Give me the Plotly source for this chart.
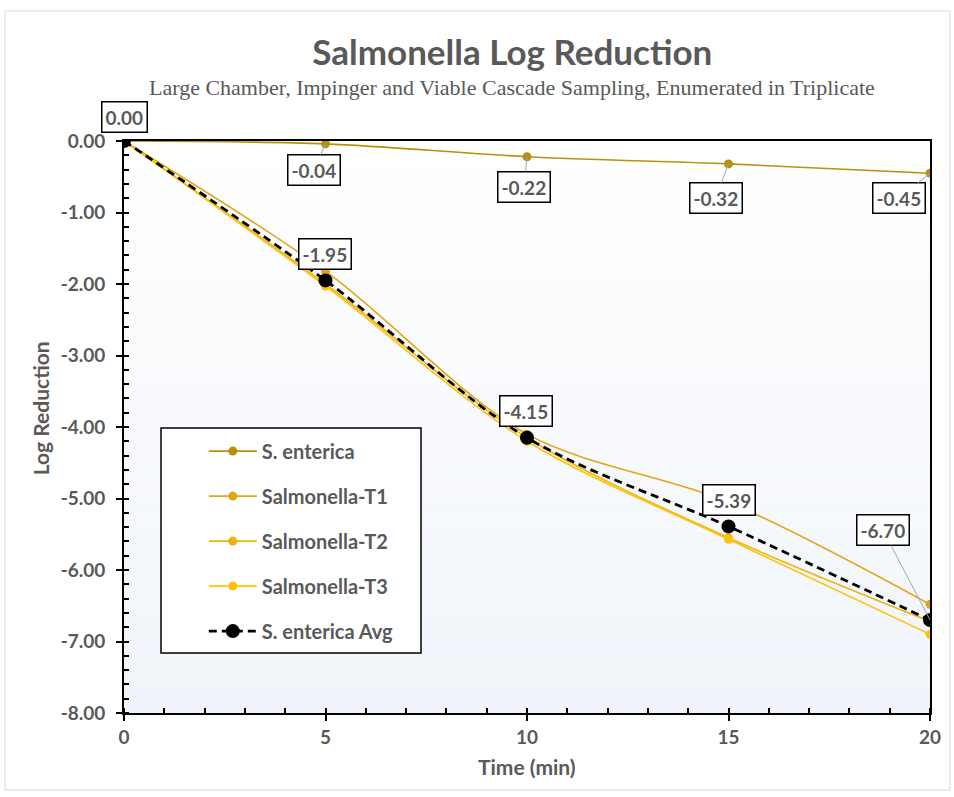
import plotly.graph_objects as go

# Sampling times (min)
time_min = [0, 5, 10, 15, 20]

# Log reduction per series
s_enterica = [0.00, -0.04, -0.22, -0.32, -0.45]
salmonella_t1 = [0.00, -1.82, -4.10, -5.05, -6.48]
salmonella_t2 = [0.00, -2.00, -4.15, -5.55, -6.72]
salmonella_t3 = [0.00, -2.03, -4.20, -5.57, -6.90]
s_enterica_avg = [0.00, -1.95, -4.15, -5.39, -6.70]

y_ticks = [0, -1, -2, -3, -4, -5, -6, -7, -8]
x_ticks = [0, 5, 10, 15, 20]

FONT = "Lato"
GRAY = "#595959"

fig = go.Figure()

series = [
    ("S. enterica", s_enterica, "#B8900F"),
    ("Salmonella-T1", salmonella_t1, "#E0A614"),
    ("Salmonella-T2", salmonella_t2, "#EEB40E"),
    ("Salmonella-T3", salmonella_t3, "#FFC20A"),
]
for i, (name, vals, col) in enumerate(series):
    fig.add_trace(go.Scatter(
        x=time_min, y=vals, name=name, mode="lines+markers",
        line=dict(color=col, width=1.6, shape="spline", smoothing=0.9),
        marker=dict(color=col, size=9),
        legendgroup=f"g{i}",
    ))

fig.add_trace(go.Scatter(
    x=time_min, y=s_enterica_avg, name="S. enterica Avg", mode="lines+markers",
    line=dict(color="black", width=2.8, dash="8px,5px", shape="spline", smoothing=0.9),
    marker=dict(color="black", size=14),
    legendgroup="g4",
))

# Value labels: (x, y, ax, ay, show leader line)
labels = [
    (time_min[0], s_enterica_avg[0], 0, -24, False),
    (time_min[1], s_enterica[1], -12, 26, True),
    (time_min[2], s_enterica[2], -3, 30, True),
    (time_min[3], s_enterica[3], -13, 34, True),
    (time_min[4], s_enterica[4], -31, 25, True),
    (time_min[1], s_enterica_avg[1], -1, -26, False),
    (time_min[2], s_enterica_avg[2], -1, -27, False),
    (time_min[3], s_enterica_avg[3], 0, -26, False),
    (time_min[4], s_enterica_avg[4], -47, -90, True),
]
annotations = []
for x, y, ax, ay, leader in labels:
    annotations.append(dict(
        x=x, y=y, xref="x", yref="y", text=f"{y:.2f}",
        showarrow=True, ax=ax, ay=ay, arrowhead=0, arrowwidth=1,
        arrowcolor="#a6a6a6" if leader else "rgba(0,0,0,0)",
        font=dict(family=FONT, size=19, color=GRAY, weight="bold"),
        bgcolor="white", bordercolor="black", borderwidth=1.5, borderpad=3,
    ))

# Subtitle and axis titles
annotations.append(dict(
    x=0.481, y=1.0927, xref="paper", yref="paper", showarrow=False,
    xanchor="center", yanchor="middle",
    text="Large Chamber, Impinger and Viable Cascade Sampling, Enumerated in Triplicate",
    font=dict(family="Liberation Serif", size=22, color=GRAY),
))
annotations.append(dict(
    x=-0.104, y=0.533, xref="paper", yref="paper", showarrow=False,
    xanchor="center", yanchor="middle",
    text="Log Reduction", textangle=-90,
    font=dict(family=FONT, size=21, color=GRAY, weight="bold"),
))
annotations.append(dict(
    x=0.5, y=-0.093, xref="paper", yref="paper", showarrow=False,
    xanchor="center", yanchor="middle",
    text="Time (min)",
    font=dict(family=FONT, size=21, color=GRAY, weight="bold"),
))

# Plot-area background: vertical gradient built from thin bands
shapes = []
n_bands = 60
top = (255, 255, 255)
bottom = (240, 244, 250)
for k in range(n_bands):
    t = (k + 0.5) / n_bands
    c = tuple(round(top[j] + (bottom[j] - top[j]) * t) for j in range(3))
    shapes.append(dict(
        type="rect", xref="paper", yref="paper", layer="below",
        x0=0, x1=1, y0=1 - (k + 1) / n_bands, y1=1 - k / n_bands,
        fillcolor=f"rgb{c}", line=dict(width=0),
    ))

# Legend frame
shapes.append(dict(
    type="rect", xref="paper", yref="paper", layer="below",
    x0=0.0459, x1=0.3685, y0=0.1049, y1=0.4983,
    fillcolor="white", line=dict(color="black", width=1.5),
))
# Outer chart frame
shapes.append(dict(
    type="rect", xref="paper", yref="paper", layer="below",
    x0=-0.1476, x1=1.0248, y0=-0.1346, y1=1.2273,
    fillcolor="rgba(0,0,0,0)", line=dict(color="#d9d9d9", width=1),
))

fig.update_layout(
    width=954, height=797,
    margin=dict(l=124, r=24, t=141, b=84),
    paper_bgcolor="white", plot_bgcolor="white",
    title=dict(
        text="Salmonella Log Reduction", x=0.537, y=0.934,
        xref="container", yref="container", xanchor="center", yanchor="middle",
        font=dict(family=FONT, size=35, color=GRAY, weight="bold"),
    ),
    font=dict(family=FONT, color=GRAY),
    showlegend=True,
    legend=dict(
        x=0.099, y=0.492, xanchor="left", yanchor="top",
        bgcolor="rgba(0,0,0,0)", borderwidth=0,
        font=dict(family=FONT, size=20, color=GRAY, weight="bold"),
        tracegroupgap=16, itemwidth=48,
    ),
    annotations=annotations,
    shapes=shapes,
)

fig.update_xaxes(
    range=[0, 20], tickvals=x_ticks, ticktext=[str(v) for v in x_ticks],
    showgrid=False, zeroline=False,
    showline=True, linecolor="black", linewidth=1.8, mirror=True,
    ticks="outside", ticklen=6, tickwidth=1.5, tickcolor="black",
    minor=dict(ticks="inside", dtick=1, ticklen=5, tickwidth=1.5, tickcolor="black"),
    tickfont=dict(family=FONT, size=19, color=GRAY, weight="bold"),
)
fig.update_yaxes(
    range=[-8, 0], tickvals=y_ticks, ticktext=[f"{v:.2f}" for v in y_ticks],
    showgrid=False, zeroline=False,
    showline=True, linecolor="black", linewidth=1.8, mirror=True,
    ticks="outside", ticklen=6, tickwidth=1.5, tickcolor="black",
    minor=dict(ticks="inside", dtick=0.2, ticklen=5, tickwidth=1.5, tickcolor="black"),
    tickfont=dict(family=FONT, size=19, color=GRAY, weight="bold"),
    ticklabelstandoff=7,
)

fig.write_html("out.html")
